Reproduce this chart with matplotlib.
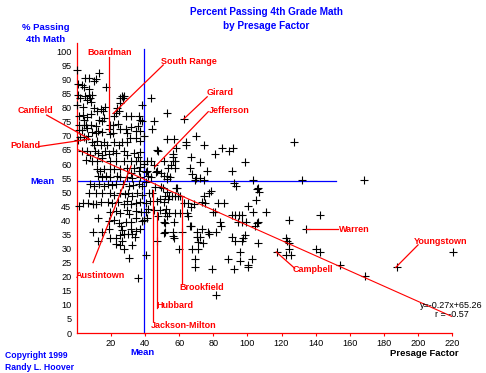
import numpy as np
import matplotlib
matplotlib.use("Agg")
import matplotlib.pyplot as plt

# presage factor (x) and % passing 4th grade math (y)
pts = [
    # middle / right block
    (53.1,78.2),(62.5,76.0),(53.1,68.9),(56.7,68.9),(69.6,70.1),(63.7,67.9),(63.7,66.8),(74.7,66.8),
    (84.9,65.7),(89.0,64.7),(91.6,65.7),(81.0,63.7),(58.2,65.7),(56.3,63.7),(56.3,62.5),(57.5,61.1),
    (56.3,61.1),(66.9,62.5),(71.9,60.9),(98.6,60.9),(55.1,59.7),(53.5,58.5),(57.5,58.5),(66.1,58.5),
    (76.3,57.5),(90.8,57.5),(50.8,55.9),(52.8,55.9),(52.8,54.6),(54.7,55.4),(67.2,56.3),(70.0,55.2),
    (71.9,55.2),(69.2,54.4),(74.3,54.4),(91.9,53.3),(93.5,52.1),(103.3,54.4),(106.1,51.5),(58.6,51.5),
    (58.2,51.6),(50.4,51.4),(52.8,50.2),(53.9,48.8),(51.6,48.8),(55.9,48.8),(57.5,48.8),(59.0,48.8),
    (60.6,48.8),(48.8,47.6),(53.5,47.6),(62.9,46.2),(65.3,46.2),(68.8,45.9),(66.9,44.9),(74.3,48.5),
    (77.4,49.7),(78.6,50.4),(73.1,46.6),(75.1,46.2),(82.5,46.2),(86.5,46.2),(100.2,45.2),(105.3,47.1),
    (52.4,44.0),(53.9,42.8),(53.1,41.6),(51.9,42.8),(57.5,42.6),(60.6,42.8),(64.5,42.8),(64.9,41.5),
    (79.8,43.1),(81.0,43.1),(110.8,43.1),(91.2,41.9),(92.7,41.9),(95.1,41.9),(96.6,41.9),(94.3,39.3),
    (96.6,39.3),(99.0,39.3),(106.1,39.3),(104.5,38.1),(51.2,39.3),(57.1,39.3),(66.1,38.1),(66.9,38.1),
    (83.7,39.3),(84.5,38.1),(124.1,40.0),(73.5,36.9),(70.4,35.7),(76.6,35.7),(77.4,35.2),(81.8,35.9),
    (51.6,35.9),(56.6,35.9),(56.3,34.5),(57.1,33.6),(61.8,35.9),(70.4,34.1),(72.4,34.1),(70.8,32.4),
    (73.9,32.1),(91.2,34.1),(92.7,32.8),(97.5,33.6),(97.1,32.8),(106.1,32.1),(124.5,31.9),(124.1,29.8),
    (59.8,29.8),(67.2,29.8),(70.8,29.8),(95.9,28.8),(95.9,25.7),(88.4,26.4),(102.9,26.4),(69.2,26.4),
    (69.2,23.4),(100.2,24.1),(100.6,23.4),(79.4,22.7),(92.4,22.7),(81.4,13.4),
    # upper left block
    (0.3,93.5),(12.9,92.3),(4.7,90.4),(7.1,90.6),(10.2,89.4),(11.2,90.1),(0.8,88.5),(3.1,88.0),
    (4.3,87.3),(7.1,86.6),(16.9,87.3),(0.8,84.7),(4.7,84.2),(7.1,84.7),(8.6,84.5),(5.9,82.8),
    (7.8,83.3),(1.9,83.5),(0.3,81.1),(3.5,80.4),(8.2,82.1),(10.2,80.0),(11.8,78.8),(14.1,79.7),
    (16.5,80.4),(15.3,79.0),(26.3,84.2),(27.8,84.2),(25.1,83.5),(27.1,83.3),(43.5,83.3),(38.4,80.9),
    (23.5,80.0),(25.5,81.6),(3.5,77.3),(1.2,77.1),(5.9,76.6),(3.9,75.7),(8.2,77.8),(12.9,75.7),
    (15.7,76.4),(14.9,75.2),(21.6,76.9),(22.8,78.3),(24.7,78.8),(28.6,76.9),(31.4,76.9),(36.5,77.1),
    (36.9,75.7),(38.4,75.2),(45.1,75.2),(1.2,73.8),(3.9,73.8),(5.1,73.8),(2.8,72.1),(1.2,72.1),
    (5.9,72.8),(8.2,73.8),(11.0,73.6),(9.0,71.4),(11.0,70.9),(12.5,71.9),(14.5,71.4),(19.6,74.0),
    (21.2,73.8),(18.8,72.6),(19.2,70.7),(21.2,70.9),(24.3,74.2),(25.5,72.6),(29.0,72.6),(31.4,73.3),
    (35.7,73.6),(34.9,71.9),(37.2,71.9),(29.4,70.9),(44.3,72.6),(1.9,69.5),(3.9,69.5),(6.3,70.0),
    (5.5,68.8),(0.8,68.6),(8.6,67.9),(9.8,66.9),(11.8,68.3),(14.1,66.9),(16.1,67.9),(17.6,66.9),
    (21.9,67.9),(24.7,66.9),(26.6,67.9),(29.4,67.9),(31.0,69.3),(34.5,69.3),(37.2,68.1),(39.2,69.8),
    (47.5,64.5),(43.5,61.0),(3.1,64.5),(5.9,64.5),(7.8,63.3),(10.6,64.7),(12.2,63.8),(14.5,63.3),
    (16.5,64.5),(18.8,63.6),(21.2,64.5),(23.1,63.8),(27.5,64.5),(29.4,63.3),(33.7,63.8),(35.7,62.6),
    (37.2,64.3),(5.5,61.5),(9.0,61.0),(11.8,61.0),(14.9,62.2),(19.6,61.2),(22.8,61.0),(27.5,61.2),
    (31.4,61.0),(34.9,61.0),(37.2,61.2),(41.2,61.0),(11.8,58.1),(13.7,57.4),(15.7,58.1),(19.6,58.1),
    (21.6,58.1),(25.5,58.1),(29.4,58.6),(31.4,56.9),(33.3,58.6),(36.1,57.7),(37.2,59.1),(39.2,60.2),
    (41.2,57.4),(45.1,59.8),(47.1,65.0),(51.0,61.0),(47.1,57.4),
    # lower left block
    (46.3,57.3),(49.0,56.8),(40.4,57.3),
    (12.2,55.6),(14.5,55.4),(17.2,55.6),(19.2,55.4),(23.5,55.6),(25.5,55.4),(29.4,55.4),(32.5,55.2),
    (37.2,55.4),(41.9,55.6),(43.5,55.4),
    (7.8,53.0),(9.8,52.3),(12.9,53.0),(15.7,52.3),(18.1,53.0),(20.4,52.5),(23.1,53.0),(27.1,53.0),
    (30.6,52.3),(32.9,52.5),(36.1,53.0),(38.4,52.3),(40.4,53.5),(45.5,51.8),(49.0,52.0),
    (7.1,49.6),(11.4,49.6),(14.9,49.6),(19.2,49.6),(21.9,49.0),(25.1,49.6),(28.2,49.3),(29.8,49.6),
    (32.2,48.6),(35.3,49.6),(38.4,49.0),(42.4,49.6),(44.3,49.6),
    (6.3,46.2),(9.4,45.9),(11.4,45.9),(14.1,46.5),(18.1,46.5),(20.8,46.2),(24.3,46.5),(27.8,45.9),
    (29.4,47.0),(31.8,45.9),(34.5,46.2),(37.2,46.5),(40.4,46.2),(43.1,47.0),(47.1,46.8),(51.0,46.5),
    (1.0,45.2),(3.7,46.2),
    (19.6,43.1),(22.8,43.3),(25.5,42.8),(29.4,43.6),(30.6,42.1),(34.9,43.3),(37.6,43.1),(40.4,43.1),
    (41.9,44.0),(45.1,43.8),(48.6,43.6),
    (12.5,41.0),(18.8,39.7),(21.6,40.2),(24.7,39.0),(29.0,39.5),(31.4,39.5),(34.5,40.8),(38.0,39.7),
    (39.2,40.2),(41.2,41.0),(47.5,41.6),(51.4,39.0),
    (9.6,36.0),(14.5,35.9),(18.8,36.8),(25.9,37.9),(26.6,36.5),(27.5,35.3),(31.4,36.8),(34.5,36.1),
    (37.2,37.0),(51.0,35.5),
    (12.2,32.8),(19.6,33.6),(23.1,33.8),(25.1,34.8),(26.6,32.8),(29.8,35.3),(32.2,35.0),(34.1,34.0),
    (47.1,32.6),(23.1,31.5),(25.5,31.2),(32.2,31.2),(27.5,30.0),
    (30.6,26.7),(40.4,27.7),(35.7,19.6),
    # far right
    (105.9,51.1),(106.6,50.2),(103.1,43.1),(105.5,39.0),(98.4,34.8),(142.7,42.0),(134.1,36.9),
    (122.4,33.8),(123.5,32.6),(122.4,27.7),(125.5,27.7),(117.3,28.8),(140.0,30.0),(142.7,28.8),
    (154.5,24.3),(169.0,20.3),(187.5,23.4),(220.8,28.8),(168.6,54.2),(132.2,54.4),(127.3,67.7),
]
presage = [p[0] for p in pts]
passing = [p[1] for p in pts]

mean_x = 39.3
mean_y = 54.0
slope = -0.27
intercept = 65.26

# district labels: name, text position, line start, line end
districts = [
    ("Boardman",       (19.4, 99.6),  (18.5, 98.0),  (18.5, 71.7)),
    ("South Range",    (65.9, 96.4),  (50.6, 95.2),  (21.3, 78.0)),
    ("Girard",         (83.9, 85.3),  (76.4, 83.9),  (62.8, 76.1)),
    ("Jefferson",      (89.2, 79.2),  (77.0, 78.6),  (45.8, 59.1)),
    ("Canfield",       (-24.6, 79.2), (-17.8, 77.4), (7.6, 68.8)),
    ("Poland",         (-30.5, 66.5), (-22.7, 66.2), (6.6, 68.8)),
    ("Austintown",     (13.9, 20.6),  (9.4, 25.0),   (31.7, 59.3)),
    ("Brookfield",     (72.9, 16.2),  (61.4, 17.4),  (61.4, 48.7)),
    ("Hubbard",        (57.7, 9.7),   (46.9, 9.0),   (46.9, 43.1)),
    ("Jackson-Milton", (62.4, 2.6),   (44.8, 4.2),   (44.8, 50.8)),
    ("Warren",         (162.9, 36.8), (134.5, 36.8), (153.1, 36.8)),
    ("Campbell",       (138.5, 22.7), (116.9, 28.8), (127.7, 23.0)),
    ("Youngstown",     (213.1, 32.4), (200.1, 31.3), (187.0, 23.3)),
]

fig = plt.figure(figsize=(4.86, 3.73), dpi=100)
ax = fig.add_axes([0.1584, 0.1072, 0.7716, 0.7775])
ax.set_xlim(0, 220)
ax.set_ylim(0, 103)

lab_font = "Liberation Sans"

ax.scatter(presage, passing, marker="+", s=26, c="black", linewidths=0.8, zorder=3, clip_on=False)

# regression line
xr = np.array([0, 220])
ax.plot(xr, slope * xr + intercept, color="red", lw=0.8, zorder=4)

# mean lines
ax.plot([mean_x, mean_x], [0, 101], color="blue", lw=0.9, zorder=2, clip_on=False)
ax.plot([0, 152], [mean_y, mean_y], color="blue", lw=0.9, zorder=2)

for name, tpos, a, b in districts:
    ax.plot([a[0], b[0]], [a[1], b[1]], color="red", lw=0.9, zorder=5, clip_on=False)
    ax.text(tpos[0], tpos[1], name, color="red", fontsize=6.5, fontweight="bold",
            family=lab_font, ha="center", va="center", clip_on=False, zorder=6)

ax.text(219.7, 9.9, "y=-0.27x+65.26", fontsize=6.5, family=lab_font, ha="center", va="center", zorder=6)
ax.text(220.0, 6.7, "r = -0.57", fontsize=6.5, family=lab_font, ha="center", va="center", zorder=6)

for s in ["top", "right"]:
    ax.spines[s].set_visible(False)
for s in ["left", "bottom"]:
    ax.spines[s].set_color("red")
    ax.spines[s].set_linewidth(0.9)

ax.set_xticks(range(20, 221, 20))
ax.set_yticks(range(0, 101, 5))
ax.tick_params(axis="x", colors="red", length=2.5, width=0.8, labelcolor="black", labelsize=6.6, pad=1.5)
ax.tick_params(axis="y", length=0, labelsize=6.6, pad=4)
for t in ax.get_xticklabels() + ax.get_yticklabels():
    t.set_family(lab_font)

# titles and side texts (figure pixel coords)
def ftext(px, py, s, **kw):
    fig.text(px / 486, 1 - py / 373, s, **kw)

ftext(266, 12, "Percent Passing 4th Grade Math", color="blue", fontsize=7.2, fontweight="bold",
      family=lab_font, ha="center", va="center")
ftext(266, 26, "by Presage Factor", color="blue", fontsize=7.2, fontweight="bold",
      family=lab_font, ha="center", va="center")
ftext(46, 27, "% Passing", color="blue", fontsize=6.8, fontweight="bold", family=lab_font, ha="center", va="center")
ftext(46, 39, "4th Math", color="blue", fontsize=6.8, fontweight="bold", family=lab_font, ha="center", va="center")
ftext(42.7, 181, "Mean", color="blue", fontsize=6.8, fontweight="bold", family=lab_font, ha="center", va="center")
ftext(142.7, 352.5, "Mean", color="blue", fontsize=6.8, fontweight="bold", family=lab_font, ha="center", va="center")
ftext(424, 354, "Presage Factor", color="black", fontsize=6.8, fontweight="bold", family=lab_font, ha="center", va="center")
ftext(5, 356, "Copyright 1999", color="blue", fontsize=6.2, fontweight="bold", family=lab_font, ha="left", va="center")
ftext(5, 367.5, "Randy L. Hoover", color="blue", fontsize=6.2, fontweight="bold", family=lab_font, ha="left", va="center")

fig.savefig("out.png", dpi=100)
